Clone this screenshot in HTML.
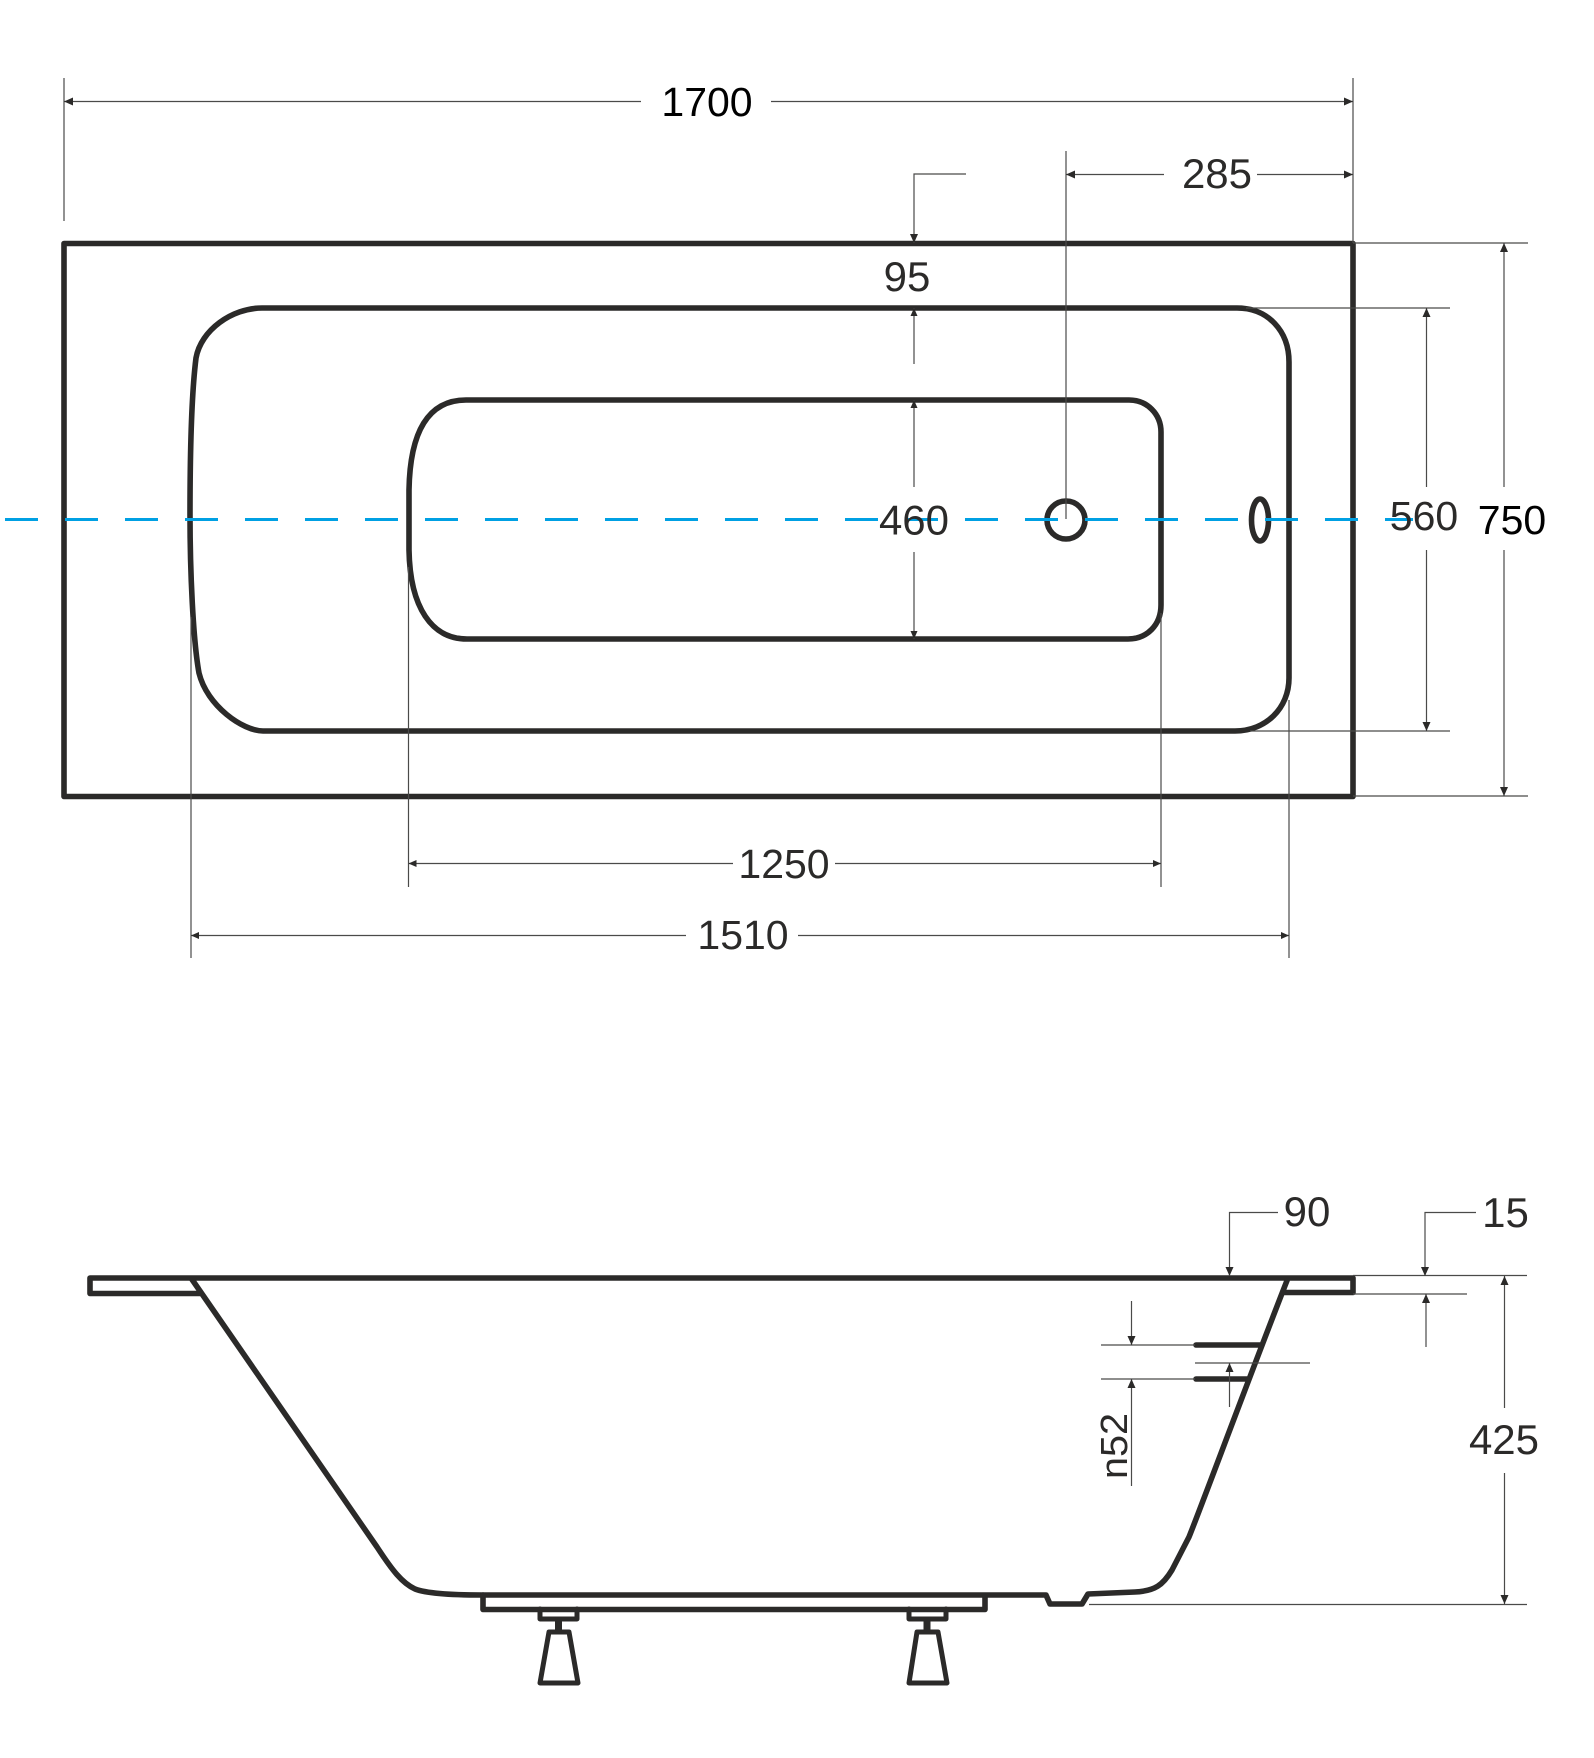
<!DOCTYPE html>
<html><head><meta charset="utf-8"><style>
html,body{margin:0;padding:0;background:#fff}
svg{display:block}
text{font-family:"Liberation Sans",sans-serif;font-size:42px;fill:#2b2a29;text-anchor:middle}
.d{stroke:#2b2a29;stroke-width:5.6;fill:none;stroke-linejoin:round;stroke-linecap:round}
.t{stroke:#4a4a49;stroke-width:1.2;fill:none}
.a{stroke:#4a4a49;stroke-width:1.2;fill:none;marker-end:url(#m)}
.s{stroke:#4a4a49;stroke-width:1.2;fill:none;marker-end:url(#n)}
</style></head><body>
<svg width="1594" height="1758" viewBox="0 0 1594 1758" xmlns="http://www.w3.org/2000/svg">
<defs>
<marker id="m" markerUnits="userSpaceOnUse" markerWidth="10" markerHeight="10" refX="9" refY="4" orient="auto"><path d="M0 0L9 4L0 8Z" fill="#2b2a29"/></marker>
<marker id="n" markerUnits="userSpaceOnUse" markerWidth="9" markerHeight="9" refX="8" refY="3.5" orient="auto"><path d="M0 0L8 3.5L0 7Z" fill="#2b2a29"/></marker>
</defs>
<rect width="1594" height="1758" fill="#fff"/>

<!-- top view -->
<rect class="d" x="64" y="243.5" width="1289" height="553"/>
<path class="d" d="M262 308H1237C1268 308 1289 331 1289 362V678C1289 708 1266 731 1235 731H263C243 731 207 706 199 673C193 640 190 570 190 515C190 440 192 390 196 358C201 330 232 308 262 308Z"/>
<path class="d" d="M466 400H1129C1147 400 1161 414 1161 432V605C1161 625 1147 639 1128 639H467C432 639 410 608 409 550V490C410 432 428 400 466 400Z"/>
<circle class="d" cx="1066" cy="520" r="19" stroke-width="4"/>
<ellipse class="d" cx="1260" cy="520" rx="8.5" ry="21" stroke-width="4"/>

<!-- extension lines -->
<path class="t" d="M64 78V221M1353 78V243M1066 151V519M1353 243H1528M1246 308H1450M1250 731H1450M1353 796H1528M408.5 567V887M1161 613V887M191 617V958M1289 700V958"/>

<!-- dims -->
<path class="a" d="M641 101.5H64"/><path class="a" d="M771 101.5H1353"/>
<path class="a" d="M1164 174.5H1066"/><path class="a" d="M1257 174.5H1353"/>
<path class="a" d="M966 174H914V243"/>
<path class="s" d="M914 364V308"/>
<path class="s" d="M914 487V400"/><path class="s" d="M914 552V639"/>
<path class="a" d="M1426.5 487V308"/><path class="a" d="M1426.5 550V731"/>
<path class="a" d="M1504 487V243"/><path class="a" d="M1504 550V796"/>
<path class="s" d="M733 863.5H408.5"/><path class="s" d="M835 863.5H1161"/>
<path class="s" d="M686 935.5H191"/><path class="s" d="M798 935.5H1289"/>

<!-- centre line -->
<path d="M5 519.5H1413" stroke="#00a0e3" stroke-width="2.9" stroke-dasharray="33 27" fill="none"/>

<text x="707" y="116" style="fill:#000;font-size:41px">1700</text>
<text x="1217" y="188">285</text>
<text x="907" y="291">95</text>
<text x="914" y="534.5">460</text>
<text x="1424" y="530" style="font-size:41px">560</text>
<text x="1512" y="534" style="fill:#000;font-size:41px">750</text>
<text x="784" y="878" style="font-size:41px">1250</text>
<text x="743" y="949" style="font-size:41px">1510</text>

<!-- side view -->
<path class="d" d="M90 1278H1353V1292.5H1283M90 1278V1293.5H200M191 1278L377 1547C392 1570 402 1583 415 1589C428 1594 455 1595 482 1595H1046L1050 1604H1082L1088 1594L1135 1592C1155 1591 1163 1585 1172 1570L1189 1537C1200 1510 1250 1375 1288 1278"/>
<path class="d" d="M483 1595V1609.5H985V1597"/>
<path class="d" stroke-width="4" d="M1196 1345H1260M1196 1379H1247"/>

<!-- feet -->
<g class="d">
<path d="M540 1609V1619H577V1609M549 1632H569L578 1683H540Z" style="stroke-width:5"/>
<path d="M909 1609V1619H946V1609M917 1632H938L947 1683H909Z" style="stroke-width:5"/>
</g>
<rect x="555" y="1619" width="7" height="13" fill="#2b2a29"/>
<rect x="923.5" y="1619" width="7" height="13" fill="#2b2a29"/>

<!-- side dims -->
<path class="t" d="M1353 1275.5H1527M1353 1294H1467M1089 1604.5H1527M1101 1345H1195M1101 1379H1195M1195 1363H1310"/>
<path class="a" d="M1278 1212.5H1229.5V1276"/>
<path class="a" d="M1476 1212.5H1425V1276"/>
<path class="a" d="M1426 1347V1294"/>
<path class="a" d="M1504.5 1408V1276"/><path class="a" d="M1504.5 1473V1604"/>
<path class="a" d="M1131.5 1301V1345"/><path class="a" d="M1131.5 1486V1379"/>
<path class="a" d="M1229.5 1407V1363"/>

<text x="1307" y="1226">90</text>
<text x="1505.5" y="1227">15</text>
<text x="1504" y="1454">425</text>
<text transform="translate(1127,1446) rotate(-90)" x="0" y="0" style="font-size:38px" textLength="66" lengthAdjust="spacingAndGlyphs">n52</text>
</svg>
</body></html>
